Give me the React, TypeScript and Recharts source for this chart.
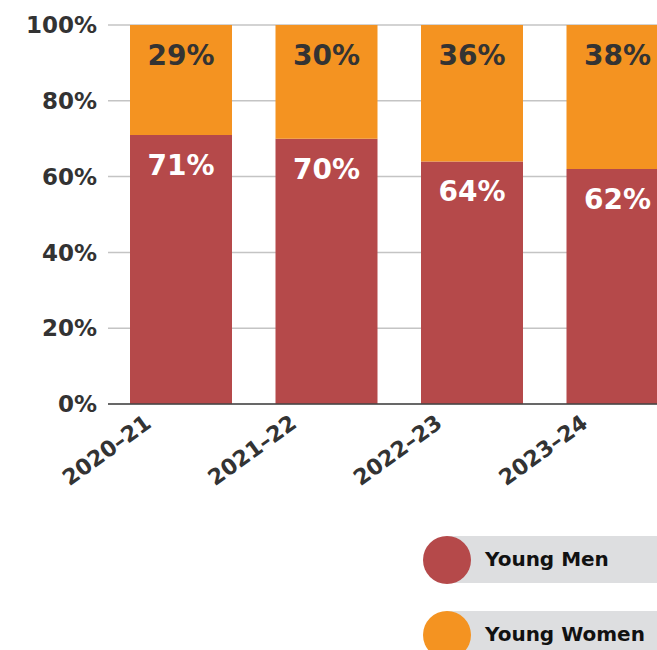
import { BarChart, Bar, XAxis, YAxis, CartesianGrid, LabelList } from "recharts";

const years = ["2020–21", "2021–22", "2022–23", "2023–24"];
const youngMen = [71, 70, 64, 62];
const youngWomen = [29, 30, 36, 38];
const yTicks = [0, 20, 40, 60, 80, 100];

const series = [
  { key: "men", name: "Young Men", color: "#b5494a", labelColor: "#ffffff" },
  { key: "women", name: "Young Women", color: "#f49321", labelColor: "#333333" },
];

const data = years.map((year, i) => ({ year, men: youngMen[i], women: youngWomen[i] }));

const FONT = "'DejaVu Sans', sans-serif";

const BarLabel = (color: string) => (props: any) => {
  const { x, y, width, value } = props;
  return (
    <text x={x + width / 2} y={y + 40} textAnchor="middle" fill={color} fontFamily={FONT} fontWeight={700} fontSize={28}>
      {value}%
    </text>
  );
};

const YearTick = ({ x, y, payload }: any) => {
  const tx = x - 28;
  const ty = y + 14;
  return (
    <text x={tx} y={ty} textAnchor="end" fill="#333" fontFamily={FONT} fontWeight={700} fontSize={22} transform={`rotate(-36, ${tx}, ${ty})`}>
      {payload.value}
    </text>
  );
};

export default function App() {
  return (
    <div style={{ position: "absolute", left: 0, top: 0, width: 657, height: 650, overflow: "hidden", background: "#fff" }}>
      <BarChart width={700} height={650} data={data} margin={{ top: 25, right: 10, left: 0, bottom: 146 }} barSize={102}>
        <CartesianGrid vertical={false} stroke="#c4c4c4" strokeWidth={1.5} />
        <XAxis dataKey="year" height={100} axisLine={{ stroke: "#444", strokeWidth: 1.5 }} tickLine={false} tick={<YearTick />} interval={0} />
        <YAxis
          width={108}
          domain={[0, 100]}
          ticks={yTicks}
          tickFormatter={(v) => `${v}%`}
          axisLine={false}
          tickLine={false}
          tickSize={0}
          tickMargin={11}
          tick={{ fill: "#333", fontFamily: FONT, fontWeight: 700, fontSize: 23 }}
        />
        {series.map((s) => (
          <Bar key={s.key} dataKey={s.key} name={s.name} stackId="a" fill={s.color} isAnimationActive={false}>
            <LabelList dataKey={s.key} content={BarLabel(s.labelColor)} />
          </Bar>
        ))}
      </BarChart>
      {series.map((s, i) => (
        <div key={s.key} style={{ position: "absolute", left: 423, top: 536 + i * 75, width: 300, height: 47 }}>
          <div style={{ position: "absolute", left: 24, top: 0, width: 276, height: 47, background: "#dddee0" }} />
          <div style={{ position: "absolute", left: 0, top: -0.5, width: 48, height: 48, borderRadius: 24, background: s.color }} />
          <div style={{ position: "absolute", left: 62, top: 0, height: 47, lineHeight: "47px", fontFamily: FONT, fontWeight: 700, fontSize: 20, color: "#111", whiteSpace: "nowrap" }}>
            {s.name}
          </div>
        </div>
      ))}
    </div>
  );
}
